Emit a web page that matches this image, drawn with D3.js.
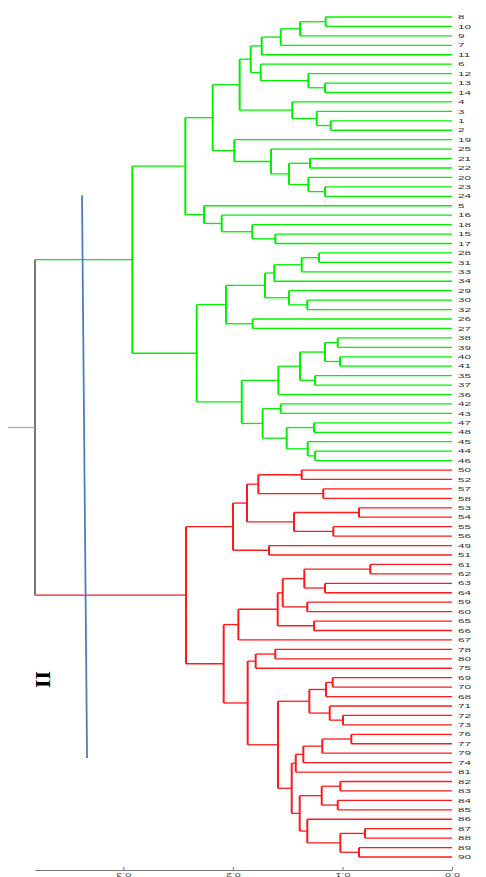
<!DOCTYPE html>
<html><head><meta charset="utf-8">
<script src="https://cdn.jsdelivr.net/npm/d3@7"></script>
<style>body{margin:0;background:#fff;overflow:hidden}</style>
</head><body>
<svg id="c" width="486" height="877"></svg>
<script>
// Leaf labels in display order (top to bottom)
const leafOrder = [8,10,9,7,11,6,12,13,14,4,3,1,2,19,25,21,22,20,23,24,5,16,18,15,17,
  28,31,33,34,29,30,32,26,27,38,39,40,41,35,37,36,42,43,47,48,45,44,46,
  50,52,57,58,53,54,55,56,49,51,61,62,63,64,59,60,65,66,67,78,80,75,69,70,68,71,72,73,
  76,77,79,74,81,82,83,84,85,86,87,88,89,90];

// Merge table (hclust style): negative = leaf label, positive = earlier merge (1-based)
const mergeLeft  = [-8,1,2,3,-13,-12,-6,4,-1,-3,-4,8,-21,-23,-20,13,-25,-19,12,-15,-18,-16,-5,19,
  -28,25,26,-30,-29,27,-26,30,-38,-40,33,-35,35,37,-42,-47,-44,-45,40,39,38,32,24,
  -50,-57,48,-53,-55,51,50,-49,54,-61,-63,57,-59,59,-65,61,63,-78,65,-69,67,-72,-71,68,
  -76,72,73,74,-82,-84,76,-87,-89,79,-86,78,75,71,66,64,56,47];
const mergeRight = [-10,-9,-7,-11,-14,5,6,7,-2,9,10,11,-22,-24,14,15,16,17,18,-17,20,21,22,23,
  -31,-33,-34,-32,28,29,-27,31,-39,-41,34,-37,36,-36,-43,-48,-46,41,42,43,44,45,46,
  -52,-58,49,-54,-56,52,53,-51,55,-62,-64,58,-60,60,-66,62,-67,-80,-75,-70,-68,-73,69,70,
  -77,-79,-74,-81,-83,-85,77,-88,-90,80,81,82,83,84,85,86,87,88];
const mergeHeight = [0.1153,0.1387,0.1563,0.1737,0.1159,0.1311,0.1746,0.1837,0.1107,0.1235,0.1458,0.1938,
  0.1296,0.1159,0.1311,0.1488,0.1652,0.1987,0.2184,0.1613,0.1823,0.2102,0.2263,0.2434,
  0.1214,0.1372,0.1622,0.1321,0.1488,0.1707,0.1819,0.2063,0.1043,0.1022,0.1159,0.1250,0.1387,0.1585,
  0.1563,0.1259,0.1250,0.1317,0.1509,0.1728,0.1919,0.2330,0.2918,
  0.1372,0.1175,0.1768,0.0849,0.1083,0.1442,0.1871,0.1670,0.1999,0.0746,0.1159,0.1348,0.1321,0.1545,
  0.1259,0.1591,0.1950,0.1613,0.1792,0.1089,0.1150,0.0995,0.1116,0.1302,0.0919,0.1184,0.1357,0.1426,
  0.1019,0.1043,0.1189,0.0794,0.0849,0.1019,0.1321,0.1390,0.1463,0.1588,0.1865,0.2084,0.2428,0.3806];

const clusterRoots = [47, 88];
const clusterColors = ["#00f000", "#ff1a1a"];
const rootColor = "#777777";

const axisTicks = [0, 0.1, 0.2, 0.3];

// cut line annotation (height, leaf-index position)
const cutHeights = [0.3377, 0.3331];
const cutIdx = [18.9, 78.5];
const groupLabel = "II";
const groupLabelPos = {h: 0.374, idx: 70.2};

const svg = d3.select("#c");
const maxH = d3.max(mergeHeight);
const x = d3.scaleLinear().domain([0, maxH]).range([452, 35]);
const y = d3.scaleLinear().domain([0, leafOrder.length - 1]).range([17, 857]);

const nodes = [];
function getNode(id) {
  if (id < 0) return {leaf: true, label: -id, h: 0, y: y(leafOrder.indexOf(-id))};
  return nodes[id - 1];
}
mergeHeight.forEach((h, i) => {
  const a = getNode(mergeLeft[i]), b = getNode(mergeRight[i]);
  nodes.push({id: i + 1, h, a, b, y: (a.y + b.y) / 2});
});
const root = nodes[nodes.length - 1];

function paint(n, c) {
  n.color = c;
  if (!n.leaf) { paint(n.a, c); paint(n.b, c); }
}
root.color = rootColor;
clusterRoots.forEach((id, k) => paint(nodes[id - 1], clusterColors[k]));

const gH = svg.append("g").attr("fill", "none");
const gV = svg.append("g").attr("fill", "none");
nodes.forEach(n => {
  [n.a, n.b].forEach(ch => {
    gH.append("line")
      .attr("x1", x(n.h)).attr("x2", x(ch.h))
      .attr("y1", ch.y).attr("y2", ch.y)
      .attr("stroke", ch.color).attr("stroke-width", 1.3);
  });
  gV.append("line")
    .attr("x1", x(n.h)).attr("x2", x(n.h))
    .attr("y1", n.a.y).attr("y2", n.b.y)
    .attr("stroke", n.color).attr("stroke-width", 2);
});
// root stub
svg.append("line")
  .attr("x1", x(maxH)).attr("x2", x(maxH + 0.0246))
  .attr("y1", root.y).attr("y2", root.y)
  .attr("stroke", "#aaaaaa").attr("stroke-width", 1.2);

// leaf labels
const leaves = leafOrder.map((lab, i) => ({lab, y: y(i)}));
svg.append("g").selectAll("text").data(leaves).join("text")
  .attr("transform", d => `translate(${x(0) + 6},${d.y}) scale(1.95,1)`)
  .attr("dy", "0.36em")
  .attr("font-family", "'Liberation Sans', Arial, sans-serif")
  .attr("font-size", 6)
  .attr("fill", "#333")
  .text(d => d.lab);

// axis
const ax = svg.append("g").attr("transform", "translate(0,870)")
  .call(d3.axisTop(x).tickValues(axisTicks).tickSize(3).tickSizeOuter(0).tickFormat(d3.format(".1f")));
ax.select(".domain").attr("stroke", "#777");
ax.selectAll(".tick line").attr("stroke", "#777");
ax.selectAll(".tick text")
  .attr("y", 0).attr("dy", "0.35em")
  .attr("transform", "translate(0,5) rotate(180) scale(1.8,1)")
  .attr("text-anchor", "middle")
  .attr("font-family", "'Liberation Sans', Arial, sans-serif")
  .attr("font-size", 6)
  .attr("fill", "#444");

// cut line
svg.append("line")
  .attr("x1", x(cutHeights[0])).attr("y1", y(cutIdx[0]))
  .attr("x2", x(cutHeights[1])).attr("y2", y(cutIdx[1]))
  .attr("stroke", "#4a7ebf").attr("stroke-width", 1.8);

// group label
svg.append("text")
  .attr("transform", `translate(${x(groupLabelPos.h)},${y(groupLabelPos.idx)}) rotate(-90)`)
  .attr("text-anchor", "middle")
  .attr("dy", "0.35em")
  .attr("font-family", "'Liberation Serif', 'Times New Roman', serif")
  .attr("font-weight", "bold")
  .attr("font-size", 22)
  .attr("fill", "#000")
  .text(groupLabel);
</script>
</body></html>
